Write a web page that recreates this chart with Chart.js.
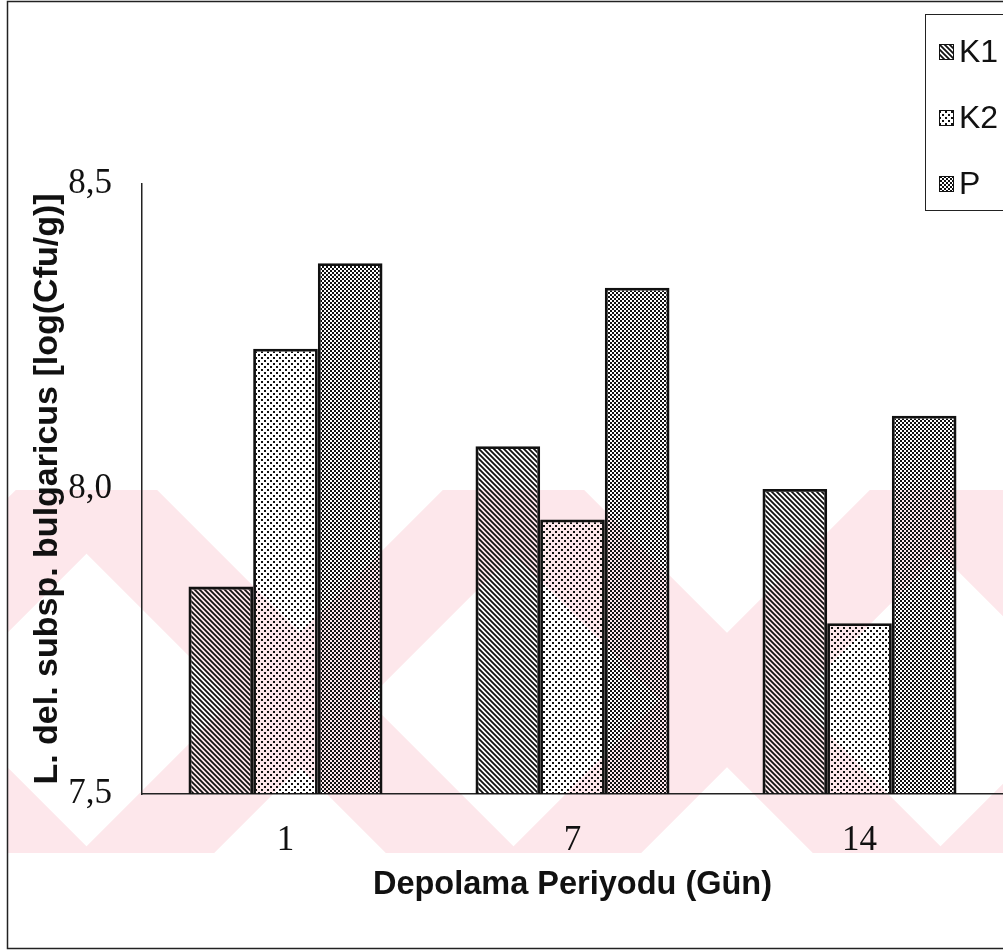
<!DOCTYPE html>
<html>
<head>
<meta charset="utf-8">
<script src="https://cdn.jsdelivr.net/npm/chart.js@4.4.1/dist/chart.umd.min.js"></script>
<style>
  html, body { margin: 0; padding: 0; background: #fff; }
</style>
</head>
<body>
<canvas id="chart" width="1003" height="950"></canvas>
<script>
// values
const days = ['1', '7', '14'];
const seriesNames = ['K1', 'K2', 'P'];
const k1Values = [7.84, 8.07, 8.00];
const k2Values = [8.23, 7.95, 7.78];
const pValues = [8.37, 8.33, 8.12];
const yTicks = [7.5, 8.0, 8.5];

// hatch fills like the printed original (transparent so the watermark shows through)
function makePattern(kind) {
    let c = document.createElement('canvas');
    let g;
    if (kind === 'diag') {
        c.width = c.height = 5;
        g = c.getContext('2d');
        g.strokeStyle = '#111';
        g.lineWidth = 1.8;
        g.beginPath();
        g.moveTo(-1, -1); g.lineTo(6, 6);
        g.moveTo(-1, 4); g.lineTo(1, 6);
        g.moveTo(4, -1); g.lineTo(6, 1);
        g.stroke();
    } else if (kind === 'light') {
        c.width = c.height = 6;
        g = c.getContext('2d');
        g.fillStyle = '#111';
        g.fillRect(0, 0, 2, 2);
        g.fillRect(3, 3, 2, 2);
    } else {
        c.width = c.height = 4;
        g = c.getContext('2d');
        g.fillStyle = '#111';
        g.fillRect(0, 0, 2, 2);
        g.fillRect(2, 2, 2, 2);
    }
    return g.createPattern(c, 'repeat');
}

const fills = [makePattern('diag'), makePattern('light'), makePattern('dark')];

const pagePlugin = {
    id: 'page',
    beforeDraw(chart) {
        const ctx = chart.ctx;
        ctx.save();
        ctx.fillStyle = '#fff';
        ctx.fillRect(0, 0, chart.width, chart.height);
        // faint pink watermark band
        ctx.beginPath();
        ctx.rect(8, 490, chart.width - 8, 363);
        ctx.clip();
        ctx.strokeStyle = '#fde7eb';
        ctx.lineWidth = 95;
        [-127, 300, 727, 1154].forEach(function (xc) {
            ctx.beginPath();
            ctx.moveTo(xc - 320, 700 - 320); ctx.lineTo(xc + 320, 700 + 320);
            ctx.moveTo(xc + 320, 700 - 320); ctx.lineTo(xc - 320, 700 + 320);
            ctx.stroke();
        });
        ctx.restore();
    },
    afterDraw(chart) {
        const ctx = chart.ctx;
        ctx.save();
        // outer frame of the scanned page
        ctx.strokeStyle = '#222';
        ctx.lineWidth = 1.5;
        ctx.strokeRect(7.5, 1.5, chart.width - 1, 947);
        // legend box
        ctx.lineWidth = 1;
        ctx.strokeRect(925.5, 14.5, 100, 196);
        const rows = [52, 118, 184];
        ctx.font = '32px "Liberation Sans", Arial, sans-serif';
        ctx.textBaseline = 'middle';
        chart.data.datasets.forEach(function (ds, i) {
            const y = rows[i];
            ctx.fillStyle = '#fff';
            ctx.fillRect(939, y - 8, 15, 16);
            ctx.fillStyle = ds.backgroundColor;
            ctx.fillRect(939, y - 8, 15, 16);
            ctx.strokeStyle = '#111';
            ctx.strokeRect(939.5, y - 7.5, 14, 15);
            ctx.fillStyle = '#111';
            ctx.fillText(ds.label, 959, y + 1);
        });
        ctx.restore();
    }
};

const ctx = document.getElementById('chart').getContext('2d');
const chart = new Chart(ctx, {
    type: 'bar',
    data: {
        labels: days,
        datasets: [
            { label: seriesNames[0], data: k1Values, backgroundColor: fills[0] },
            { label: seriesNames[1], data: k2Values, backgroundColor: fills[1] },
            { label: seriesNames[2], data: pValues, backgroundColor: fills[2] }
        ]
    },
    options: {
        responsive: false,
        animation: false,
        layout: { padding: { top: 184, left: 0, right: 0, bottom: 0 } },
        datasets: {
            bar: {
                borderColor: '#111',
                borderWidth: 2.8,
                borderSkipped: false,
                categoryPercentage: 0.676,
                barPercentage: 1.0
            }
        },
        plugins: {
            legend: { display: false },
            tooltip: { enabled: false }
        },
        scales: {
            x: {
                grid: { display: false, drawTicks: false },
                border: { display: true, color: '#222', width: 1.5 },
                ticks: {
                    color: '#111',
                    padding: 26,
                    font: { family: '"Liberation Serif", "Times New Roman", serif', size: 35 }
                },
                title: {
                    display: true,
                    text: 'Depolama Periyodu (Gün)',
                    color: '#111',
                    padding: { top: 0, bottom: 45 },
                    font: { family: '"Liberation Sans", Arial, sans-serif', size: 32.5, weight: 'bold' }
                },
                afterFit: function (scale) { scale.height = 156; }
            },
            y: {
                min: 7.5,
                max: 8.5,
                afterBuildTicks: function (scale) {
                    scale.ticks = yTicks.map(function (v) { return { value: v }; });
                },
                grid: { display: false, drawTicks: false },
                border: { display: true, color: '#222', width: 1.5 },
                ticks: {
                    color: '#111',
                    padding: 30,
                    font: { family: '"Liberation Serif", "Times New Roman", serif', size: 35 },
                    callback: function (v) { return v.toFixed(1).replace('.', ','); }
                },
                title: {
                    display: true,
                    text: 'L. del. subsp. bulgaricus [log(Cfu/g)]',
                    color: '#111',
                    padding: { top: 27, bottom: 0 },
                    font: { family: '"Liberation Sans", Arial, sans-serif', size: 34, weight: 'bold' }
                },
                afterFit: function (scale) { scale.width = 142; }
            }
        }
    },
    plugins: [pagePlugin]
});
</script>
</body>
</html>
